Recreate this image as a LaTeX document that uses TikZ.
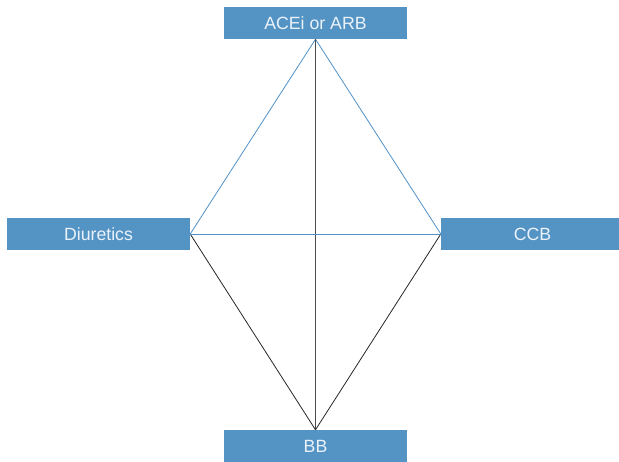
\documentclass[tikz,border=0pt]{standalone}
\usepackage{fontspec}
\setmainfont{Liberation Sans}
\definecolor{boxblue}{RGB}{84,148,196}
\definecolor{lineblue}{RGB}{80,145,200}
\definecolor{txt}{RGB}{235,242,250}
\begin{document}
\begin{tikzpicture}[x=1pt,y=-1pt,
  drug/.style={fill=boxblue,draw=none,inner sep=0pt,text=txt,font=\fontsize{17.7}{20}\selectfont,minimum width=183pt,minimum height=32pt},
  bl/.style={draw=lineblue,line width=0.8pt},
  bk/.style={draw=black!85,line width=0.8pt}]
\useasboundingbox (0,0) rectangle (619,461);
\node[drug] (top) at (315.5,23) {ACEi or ARB};
\node[drug] (left) at (98.5,234) {Diuretics};
\node[drug] (right) at (532.5,234) {CCB};
\node[drug] (bot) at (315.5,446) {BB};
\draw[bl] (top.south) -- (left.east);
\draw[bl] (top.south) -- (right.west);
\draw[bk,draw=black!70,line width=1.2pt] (top.south) -- (bot.north);
\draw[bk] (left.east) -- (bot.north);
\draw[bk] (right.west) -- (bot.north);
\draw[bl] (left.east) -- (right.west);
\end{tikzpicture}
\end{document}
